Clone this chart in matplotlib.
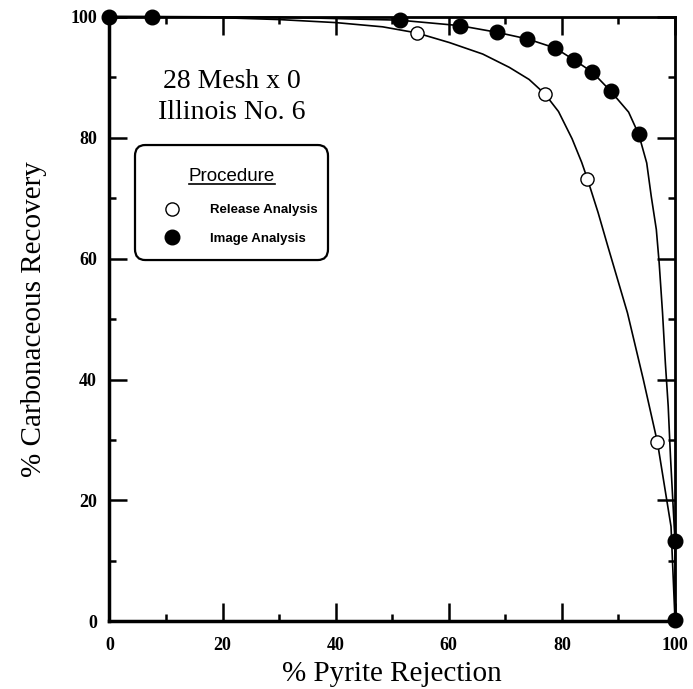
import matplotlib
matplotlib.use('Agg')
import matplotlib.pyplot as plt
from matplotlib.lines import Line2D
from matplotlib.patches import FancyBboxPatch

# Release analysis (open circles)
release_x = [54.3, 77.0, 84.5, 96.9]
release_y = [97.3, 87.2, 73.2, 29.6]

# Image analysis (filled circles)
image_x = [0, 7.5, 51.3, 61.9, 68.5, 73.9, 78.8, 82.2, 85.4, 88.6, 93.6, 100, 100]
image_y = [100, 100, 99.4, 98.5, 97.4, 96.3, 94.8, 92.8, 90.8, 87.7, 80.5, 13.3, 0.3]

# fitted curves
release_fit_x = [0, 10, 20, 30, 40, 48.3, 54.3, 60.1, 66.0, 70.7, 74.2, 77.0, 79.4,
                 81.8, 83.5, 84.5, 86.4, 88.1, 91.6, 94.4, 96.9, 99.3, 100]
release_fit_y = [100, 99.95, 99.8, 99.5, 99.0, 98.3, 97.3, 95.7, 93.8, 91.6, 89.6,
                 87.2, 84.3, 79.8, 75.9, 73.2, 67.6, 62.1, 51.0, 40.0, 29.6, 15.7, 0.3]
image_fit_x = [0, 7.5, 30, 51.3, 61.9, 68.5, 73.9, 78.8, 82.2, 85.4, 88.6, 91.8,
               93.6, 95.0, 95.8, 96.7, 97.2, 97.8, 98.3, 98.8, 99.2, 100, 100]
image_fit_y = [100, 100, 99.9, 99.4, 98.5, 97.4, 96.3, 94.8, 92.8, 90.8, 87.7, 84.2,
               80.5, 75.8, 70.3, 64.8, 59.3, 51.0, 42.7, 35.6, 27.3, 13.3, 0.3]

xticks = [0, 20, 40, 60, 80, 100]
yticks = [0, 20, 40, 60, 80, 100]

plt.rcParams['font.family'] = 'Liberation Serif'

fig = plt.figure(figsize=(6.93, 6.89), dpi=100)
ax = fig.add_axes([0.158, 0.098, 0.816, 0.878])

ax.plot(release_fit_x, release_fit_y, color='black', lw=1.2, clip_on=False,
        solid_joinstyle='round')
ax.plot(image_fit_x, image_fit_y, color='black', lw=1.2, clip_on=False,
        solid_joinstyle='round')
ax.plot(release_x, release_y, ls='none', marker='o', ms=9.5, mfc='white',
        mec='black', mew=1.0, clip_on=False, zorder=5)
ax.plot(image_x, image_y, ls='none', marker='o', ms=10.5, mfc='black',
        mec='black', clip_on=False, zorder=6)

ax.set_xlim(0, 100)
ax.set_ylim(0, 100)
ax.set_xticks(xticks)
ax.set_yticks(yticks)
ax.set_xticks(range(10, 100, 20), minor=True)
ax.set_yticks(range(10, 100, 20), minor=True)
ax.tick_params(which='both', direction='in', top=True, right=True, width=1.8,
               color='black')
ax.tick_params(which='major', length=13)
ax.tick_params(which='minor', length=5)
ax.tick_params(axis='x', which='major', pad=11)
ax.tick_params(axis='y', which='major', pad=9)
for lab in ax.get_xticklabels() + ax.get_yticklabels():
    lab.set_fontsize(13)
    lab.set_fontweight('bold')

for side in ['left', 'bottom']:
    ax.spines[side].set_linewidth(2.5)
for side in ['top', 'right']:
    ax.spines[side].set_linewidth(2.0)

ax.set_xlabel('% Pyrite Rejection', fontsize=21, labelpad=5)
ax.set_ylabel('% Carbonaceous Recovery', fontsize=21, labelpad=17)

ax.text(0.216, 0.882, '28 Mesh x 0', transform=ax.transAxes, fontsize=20,
        ha='center', va='baseline')
ax.text(0.216, 0.831, 'Illinois No. 6', transform=ax.transAxes, fontsize=20,
        ha='center', va='baseline')

# legend box drawn separately so its size can match
box = FancyBboxPatch((0.0451, 0.5975), 0.3413, 0.1901, transform=ax.transAxes,
                     boxstyle='round,pad=0,rounding_size=0.018', fc='white',
                     ec='black', lw=1.6, zorder=7)
ax.add_patch(box)

title = ax.text(0.2166, 0.728, 'Procedure', transform=ax.transAxes,
                family='Liberation Sans', fontsize=13.5, ha='center',
                va='baseline', zorder=8)

h1 = Line2D([], [], ls='none', marker='o', ms=9.5, mfc='white', mec='black', mew=1.0)
h2 = Line2D([], [], ls='none', marker='o', ms=10.5, mfc='black', mec='black')
leg = ax.legend([h1, h2], ['Release Analysis', 'Image Analysis'],
                loc='upper left', bbox_to_anchor=(0.0451, 0.7008), borderaxespad=0,
                prop=dict(family='Liberation Sans', weight='bold', size=9.5),
                handlelength=4.6, handletextpad=0.58, borderpad=0.5,
                labelspacing=1.23, frameon=False)
leg.set_zorder(8)

# underline the "Procedure" heading
fig.canvas.draw()
bb = title.get_window_extent()
inv = fig.transFigure.inverted()
(x0, y0), (x1, _) = inv.transform([(bb.x0, bb.y0 + 1), (bb.x1, bb.y0 + 1)])
fig.add_artist(Line2D([x0, x1], [y0, y0], color='black', lw=1.2,
                      transform=fig.transFigure, zorder=9))

fig.savefig('out.png', dpi=100)
